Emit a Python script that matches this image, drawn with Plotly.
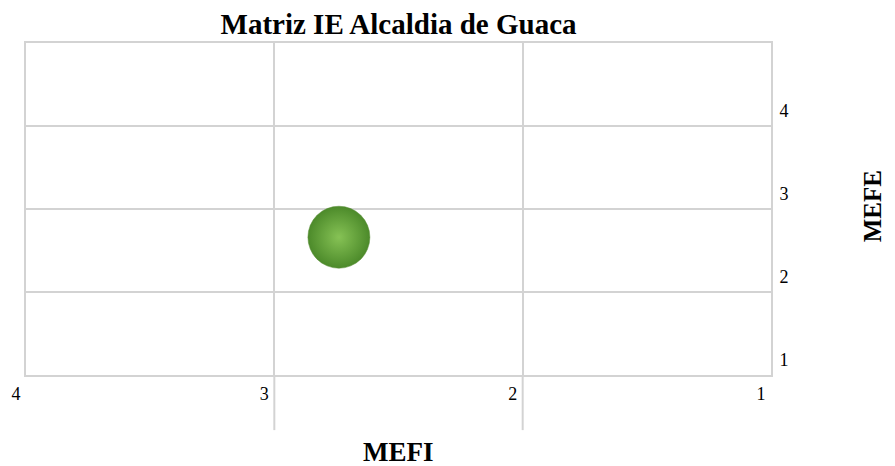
import plotly.graph_objects as go

# Matriz IE: posición de la entidad según MEFI (eje x) y MEFE (eje y)
entidad = ["Alcaldia de Guaca"]
mefi = [2.74]
mefe = [2.66]

x_ticks = [4, 3, 2, 1]
y_ticks = [1, 2, 3, 4]
x_range = [4, 1]
y_range = [1, 5]

serif = "Times New Roman, Liberation Serif, serif"
grid = "#d3d3d3"

fig = go.Figure()
fig.add_trace(go.Scatter(
    x=mefi, y=mefe, mode="markers", text=entidad,
    marker=dict(
        size=62,
        color="#4c8a2a",
        gradient=dict(type="radial", color="#86c255"),
        line=dict(color="#5a8f38", width=0.5),
    ),
    hovertemplate="%{text}<br>MEFI %{x}<br>MEFE %{y}<extra></extra>",
))

# Marcas largas bajo el eje x en los cortes interiores de la matriz
for v in x_ticks[1:-1]:
    fig.add_shape(type="line", xref="x", yref="paper", x0=v, x1=v, y0=0, y1=-0.166,
                  line=dict(color=grid, width=2), layer="below")

fig.update_layout(
    width=895, height=466,
    margin=dict(l=26, r=124, t=43, b=91),
    paper_bgcolor="white", plot_bgcolor="white",
    showlegend=False,
    title=dict(text="<b>Matriz IE Alcaldia de Guaca</b>", x=0.4453, xanchor="center",
               y=0.949, yanchor="middle", font=dict(family=serif, size=29, color="black")),
    font=dict(family=serif, color="black"),
)
fig.update_xaxes(
    range=x_range, tickvals=x_ticks, showgrid=True, gridcolor=grid, gridwidth=2,
    showline=True, linecolor=grid, linewidth=2, mirror=True, zeroline=False,
    ticks="", ticklabelshift=10, ticklabelstandoff=1,
    tickfont=dict(family=serif, size=18, color="black"),
)
fig.update_yaxes(
    range=y_range, tickvals=y_ticks, side="right", showgrid=True, gridcolor=grid, gridwidth=2,
    showline=True, linecolor=grid, linewidth=2, mirror=True, zeroline=False,
    ticks="", ticklabelshift=-15, ticklabelstandoff=3,
    tickfont=dict(family=serif, size=18, color="black"),
)
fig.add_annotation(text="<b>MEFI</b>", xref="paper", yref="paper", x=0.5, y=-0.232,
                   xanchor="center", yanchor="middle", showarrow=False,
                   font=dict(family=serif, size=27, color="black"))
fig.add_annotation(text="<b>MEFE</b>", xref="paper", yref="paper", x=1.136, y=0.509,
                   xanchor="center", yanchor="middle", showarrow=False, textangle=-90,
                   font=dict(family=serif, size=25, color="black"))

fig.write_html("out.html")
